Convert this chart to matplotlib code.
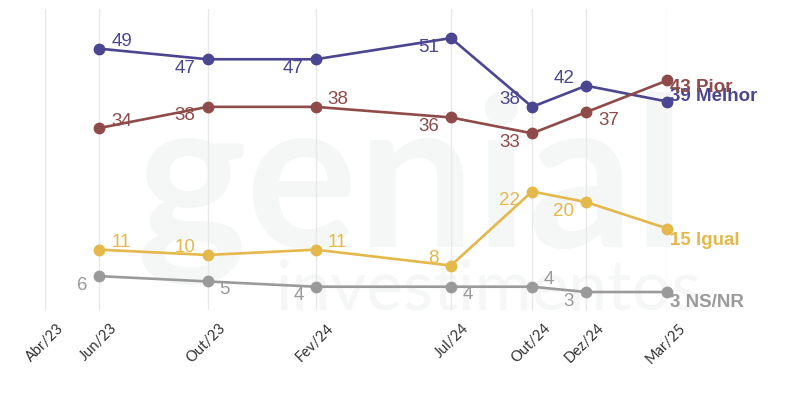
import matplotlib
matplotlib.use("Agg")
import matplotlib.pyplot as plt
import matplotlib.transforms as mtransforms

# ---- data ----
tick_labels = ["Abr/23", "Jun/23", "Out/23", "Fev/24", "Jul/24", "Out/24", "Dez/24", "Mar/25"]
tick_months = [0, 2, 6, 10, 15, 18, 20, 23]          # months since Apr/2023
point_months = [2, 6, 10, 15, 18, 20, 23]

melhor = [49, 47, 47, 51, 38, 42, 39]
pior = [34, 38, 38, 36, 33, 37, 43]
igual = [11, 10, 11, 8, 22, 20, 15]
nsnr = [6, 5, 4, 4, 4, 3, 3]

series_names = ["Melhor", "Pior", "Igual", "NS/NR"]
series_values = [melhor, pior, igual, nsnr]
colors = ["#4a4691", "#8e4b49", "#e4b84b", "#9a9a9a"]

# label placement per point: (dx px, dy px, ha)
R_UP, R_DN, L_UP, L_DN = (12, 7, "left"), (12, -8, "left"), (-12, 7, "right"), (-12, -9, "right")
placements = [
    [R_UP, L_DN, L_DN, L_DN, L_UP, L_UP],
    [R_UP, L_DN, R_UP, L_DN, L_DN, R_DN],
    [R_UP, L_UP, R_UP, L_UP, L_DN, L_DN],
    [L_DN, R_DN, L_DN, R_DN, R_UP, L_DN],
]
end_offsets = [(3, 5), (3, -7), (3, -12), (3, -10)]

W, H = 798, 396
fig = plt.figure(figsize=(W / 100, H / 100), dpi=100)
plt.rcParams["font.family"] = ["Liberation Sans", "DejaVu Sans"]

left_px, right_px, top_px, bot_px = 45.3, 667.3, 9, 310
ax = fig.add_axes([left_px / W, (H - bot_px) / H, (right_px - left_px) / W, (bot_px - top_px) / H])
ax.set_xlim(0, 23)
ax.set_ylim(-0.4, 56.5)
for s in ax.spines.values():
    s.set_visible(False)
ax.set_yticks([])
ax.set_xticks(tick_months)
ax.set_xticklabels(tick_labels, rotation=45, ha="right", fontsize=10.5,
                   color="#333333", family=["Lato", "DejaVu Sans"])
ax.tick_params(axis="x", length=0, pad=8)
offset = mtransforms.ScaledTranslation(21 / 100, 0, fig.dpi_scale_trans)
for lab in ax.get_xticklabels():
    lab.set_transform(lab.get_transform() + offset)
ax.grid(axis="x", color="#e8e8e8", linewidth=1, zorder=0.5)
ax.set_axisbelow(True)

# faint watermark behind everything
ax.text(412 / W, (H - 247) / H, "genial", transform=fig.transFigure, fontsize=150,
        color="#f5f7f6", ha="center", va="baseline", fontweight="bold",
        family=["Lato", "DejaVu Sans"], zorder=0.1)
ax.text(488 / W, (H - 310) / H, "investimentos", transform=fig.transFigure, fontsize=50,
        color="#f5f7f6", ha="center", va="baseline",
        family=["Lato", "DejaVu Sans"], zorder=0.1)

for name, vals, col, plc, eo in zip(series_names, series_values, colors, placements, end_offsets):
    ax.plot(point_months, vals, color=col, linewidth=1.9, marker="o", markersize=7.5,
            zorder=3, clip_on=False)
    for x, v, (dx, dy, ha) in zip(point_months[:-1], vals[:-1], plc):
        ax.annotate(str(v), (x, v), xytext=(dx * 0.72, dy * 0.72), textcoords="offset points",
                    ha=ha, va="center", fontsize=13.5, color=col, zorder=4)
    ax.annotate(f"{vals[-1]} {name}", (point_months[-1], vals[-1]),
                xytext=(eo[0] * 0.72, eo[1] * 0.72), textcoords="offset points",
                ha="left", va="center", fontsize=13.5, fontweight="bold", color=col,
                zorder=4, annotation_clip=False)

fig.savefig("out.png", dpi=100)
